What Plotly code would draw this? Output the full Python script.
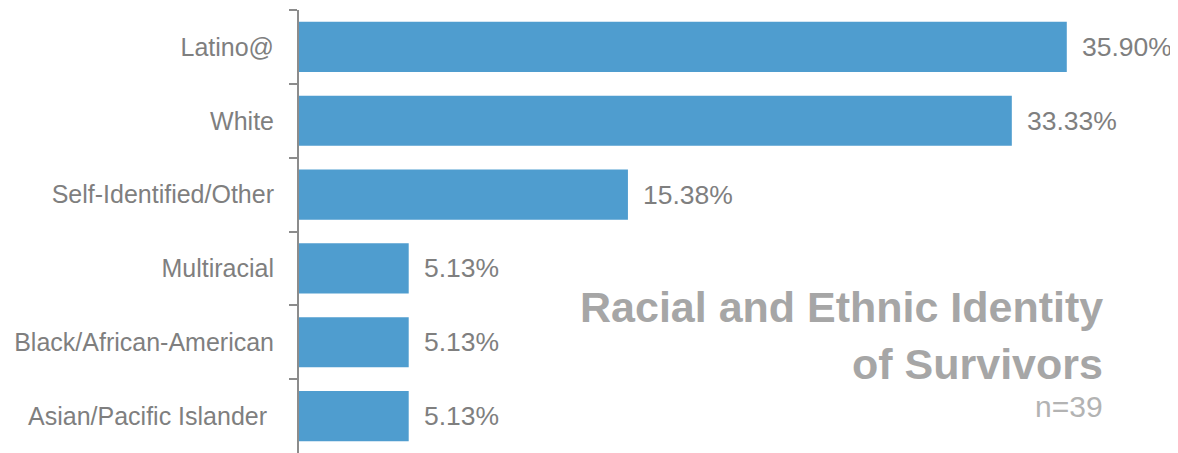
import plotly.graph_objects as go

categories = ["Latino@", "White", "Self-Identified/Other", "Multiracial",
              "Black/African-American", "Asian/Pacific Islander\u00a0"]
values = [35.90, 33.33, 15.38, 5.13, 5.13, 5.13]
value_labels = ["35.90%", "33.33%", "15.38%", "5.13%", "5.13%", "5.13%"]

title_line1 = "Racial and Ethnic Identity"
title_line2 = "of Survivors"
subtitle = "n=39"

BAR = "#4F9DCF"
GREY = "#7F7F7F"
TITLE_GREY = "#A6A6A6"
FONT = "Liberation Sans, Arial, sans-serif"

fig = go.Figure(go.Bar(
    y=categories, x=values, orientation="h",
    marker=dict(color=BAR, line=dict(width=0)),
    hoverinfo="skip",
))

annotations = []
for c, v, t in zip(categories, values, value_labels):
    annotations.append(dict(x=v, y=c, xref="x", yref="y", text=t, showarrow=False,
                            xanchor="left", yanchor="middle", xshift=13,
                            font=dict(size=26.5, color=GREY, family=FONT)))

annotations += [
    dict(x=0.9167, y=0.329, xref="paper", yref="paper", text=title_line1, showarrow=False,
         xanchor="right", yanchor="middle", font=dict(size=43, color=TITLE_GREY, family=FONT, weight="bold")),
    dict(x=0.9167, y=0.202, xref="paper", yref="paper", text=title_line2, showarrow=False,
         xanchor="right", yanchor="middle", font=dict(size=43, color=TITLE_GREY, family=FONT, weight="bold")),
    dict(x=0.9167, y=0.104, xref="paper", yref="paper", text=subtitle, showarrow=False,
         xanchor="right", yanchor="middle", font=dict(size=30, color="#B3B3B3", family=FONT)),
]

# page body has an 8px default margin; figure sized to fit the window
fig.update_layout(
    width=1170, height=445,
    margin=dict(l=291, r=0, t=2, b=0, pad=0, autoexpand=False),
    plot_bgcolor="white", paper_bgcolor="white",
    bargap=0.32,
    showlegend=False,
    annotations=annotations,
    font=dict(family=FONT, color=GREY, size=25),
)
fig.update_xaxes(range=[0, 41.1], visible=False, showgrid=False, zeroline=False, automargin=False)
fig.update_yaxes(autorange="reversed", showline=True, linecolor="#8C8C8C", linewidth=2,
                 ticks="outside", tickson="boundaries", ticklen=8, tickwidth=2, tickcolor="#8C8C8C",
                 ticklabelstandoff=18, showgrid=False, zeroline=False, automargin=False,
                 tickfont=dict(size=25, color=GREY, family=FONT))

fig.write_html("out.html")
